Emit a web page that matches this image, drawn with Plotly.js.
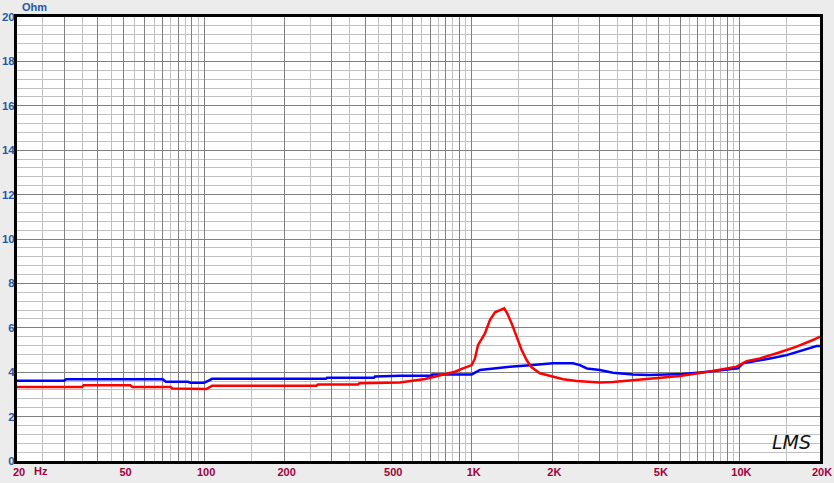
<!DOCTYPE html>
<html>
<head>
<meta charset="utf-8">
<script src="https://cdn.plot.ly/plotly-3.0.1.min.js"></script>
<style>html,body{margin:0;padding:0;background:#ececec;}#chart{width:834px;height:483px;}</style>
</head>
<body>
<div id="chart"></div>
<script>
// Blue curve (impedance, Ohm)
const blueFreq = [20, 30, 30.5, 70, 72, 87, 89, 100, 104, 107, 285, 288, 431, 435, 539, 708, 712, 1000, 1073, 1200, 1389, 1650, 1850, 2010, 2388, 2536, 2693, 3012, 3368, 4000, 4592, 6150, 7304, 8676, 9874, 10304, 10946, 13000, 15012, 17266, 19424, 20000];
const blueOhm  = [3.62, 3.62, 3.68, 3.68, 3.57, 3.57, 3.53, 3.53, 3.62, 3.70, 3.70, 3.75, 3.75, 3.81, 3.84, 3.84, 3.90, 3.90, 4.10, 4.17, 4.25, 4.31, 4.37, 4.40, 4.40, 4.32, 4.17, 4.10, 3.98, 3.90, 3.87, 3.92, 4.00, 4.10, 4.17, 4.40, 4.45, 4.62, 4.77, 5.00, 5.18, 5.18];

// Red curve (impedance, Ohm)
const redFreq = [20, 35, 35.5, 53, 54, 75, 76, 87, 88, 102, 107, 263, 266, 376, 380, 539, 669, 781, 865, 927, 984, 1000, 1028, 1055, 1120, 1169, 1221, 1274, 1322, 1357, 1409, 1471, 1536, 1603, 1674, 1798, 2016, 2197, 2466, 3012, 3368, 4000, 4592, 5994, 7304, 8676, 9764, 10638, 11930, 14172, 16354, 18816, 20000];
const redOhm  = [3.33, 3.33, 3.41, 3.41, 3.33, 3.33, 3.27, 3.27, 3.24, 3.24, 3.39, 3.39, 3.45, 3.45, 3.50, 3.54, 3.69, 3.87, 4.02, 4.17, 4.28, 4.32, 4.62, 5.22, 5.75, 6.35, 6.70, 6.80, 6.88, 6.65, 6.20, 5.60, 5.00, 4.55, 4.22, 3.95, 3.80, 3.68, 3.60, 3.54, 3.56, 3.65, 3.69, 3.83, 3.98, 4.14, 4.25, 4.50, 4.62, 4.90, 5.15, 5.45, 5.60];

// Axis ticks
const xMajorVals = [20, 30, 40, 50, 60, 70, 80, 90, 100, 200, 300, 400, 500, 600, 700, 800, 900, 1000, 2000, 3000, 4000, 5000, 6000, 7000, 8000, 9000, 10000, 20000];
const xMajorText = ['20', '', '', '50', '', '', '', '', '100', '200', '', '', '500', '', '', '', '', '1K', '2K', '', '', '5K', '', '', '', '', '10K', '20K'];
const xMinorVals = [25, 35, 45, 55, 65, 75, 85, 95, 150, 250, 350, 450, 550, 650, 750, 850, 950, 1500, 2500, 3500, 4500, 5500, 6500, 7500, 8500, 9500, 15000];
const yTickVals = [0, 2, 4, 6, 8, 10, 12, 14, 16, 18, 20];

const blueCol = '#0000ff';
const redCol = '#ff0000';
const yLabCol = '#1f5aa8';
const xLabCol = '#a0003c';
const fontFam = 'Liberation Sans, Arial, sans-serif';

const traces = [
  {x: blueFreq, y: blueOhm, type: 'scatter', mode: 'lines', line: {color: blueCol, width: 2.5}, hoverinfo: 'skip'},
  {x: redFreq, y: redOhm, type: 'scatter', mode: 'lines', line: {color: redCol, width: 2.5}, hoverinfo: 'skip'}
];

const layout = {
  width: 834, height: 483,
  margin: {l: 17, r: 14, t: 17, b: 22, pad: 0},
  paper_bgcolor: '#ececec',
  plot_bgcolor: '#ffffff',
  showlegend: false,
  font: {family: fontFam, size: 11},
  xaxis: {
    type: 'log',
    range: [Math.log10(20), Math.log10(20000)],
    tickmode: 'array', tickvals: xMajorVals, ticktext: xMajorText,
    showgrid: true, gridcolor: '#808080', gridwidth: 1,
    minor: {tickmode: 'array', tickvals: xMinorVals, showgrid: true, gridcolor: '#c0c0c0', gridwidth: 1, ticks: ''},
    ticks: '', showline: true, linecolor: '#000000', linewidth: 3, mirror: true,
    zeroline: false,
    tickfont: {family: fontFam, size: 11, color: xLabCol, weight: 'bold'},
    ticklabelstandoff: -1,
    ticklabelshift: 2
  },
  yaxis: {
    range: [0, 20],
    tickmode: 'array', tickvals: yTickVals,
    showgrid: true, gridcolor: '#808080', gridwidth: 1,
    minor: {dtick: 0.4, tick0: 0, showgrid: true, gridcolor: '#c0c0c0', gridwidth: 1, ticks: ''},
    ticks: '', showline: true, linecolor: '#000000', linewidth: 3, mirror: true,
    zeroline: false,
    tickfont: {family: fontFam, size: 11.5, color: yLabCol, weight: 'bold'},
    ticklabelstandoff: -3
  },
  annotations: [
    {text: 'Ohm', xref: 'paper', yref: 'paper', x: (20 - 17) / 803, y: 1, yshift: 2, xanchor: 'left', yanchor: 'bottom', showarrow: false,
     font: {family: fontFam, size: 11, color: yLabCol, weight: 'bold'}},
    {text: 'Hz', xref: 'paper', yref: 'paper', x: (32 - 17) / 803, y: 0, yshift: -2, xanchor: 'left', yanchor: 'top', showarrow: false,
     font: {family: fontFam, size: 11, color: xLabCol, weight: 'bold'}},
    {text: 'LMS', xref: 'paper', yref: 'paper', x: (791 - 17) / 803, y: (461 - 442) / 444, xanchor: 'center', yanchor: 'middle', showarrow: false,
     font: {family: 'DejaVu Sans, sans-serif', size: 19, color: '#111111', style: 'italic'}}
  ]
};

Plotly.newPlot('chart', traces, layout, {staticPlot: true, displayModeBar: false});
</script>
</body>
</html>
